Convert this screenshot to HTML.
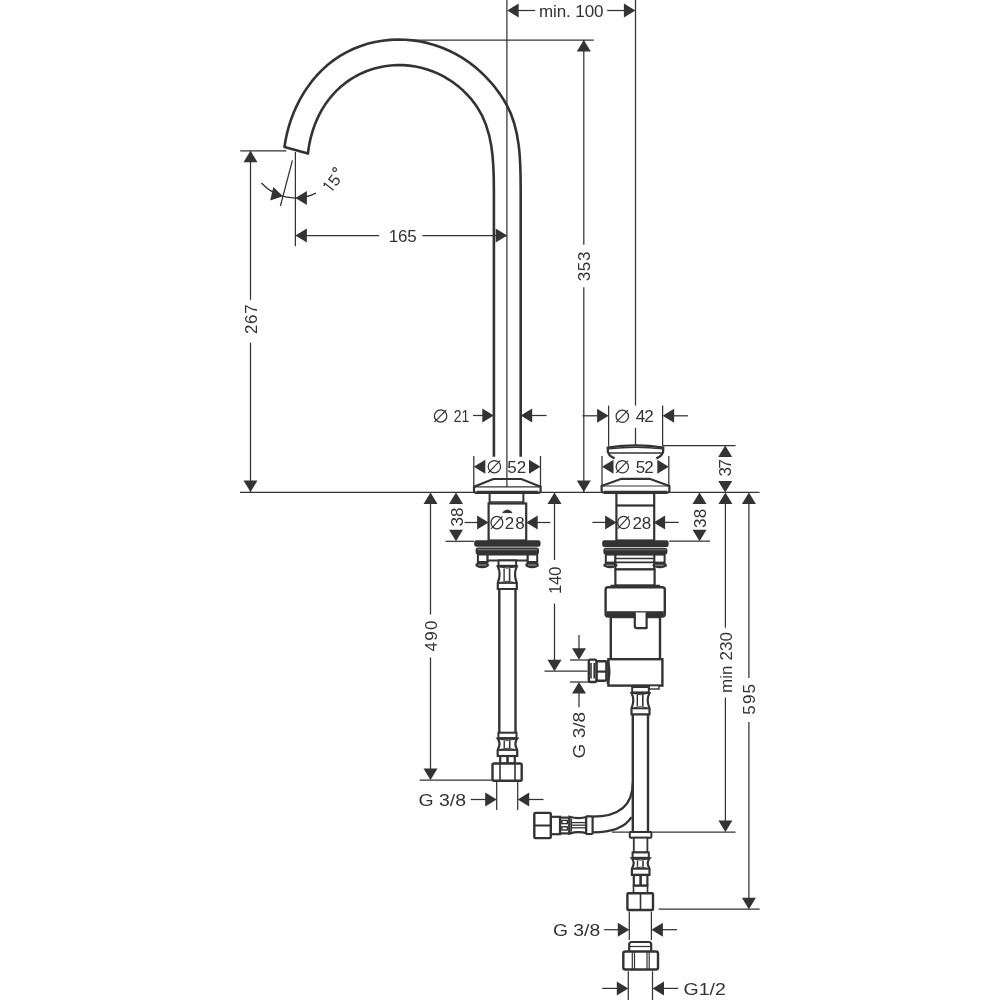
<!DOCTYPE html>
<html><head><meta charset="utf-8"><style>
html,body{margin:0;padding:0;background:#fff;width:1000px;height:1000px;overflow:hidden}
svg{display:block;will-change:transform}
text{font-family:"Liberation Sans",sans-serif;fill:#333;}
</style></head><body>
<svg width="1000" height="1000" viewBox="0 0 1000 1000">
<path d="M284.5,147 L285.6,140.04 L287.06,133.11 L288.89,126.24 L291.08,119.44 L293.63,112.73 L296.55,106.12 L299.84,99.65 L303.5,93.32 L307.53,87.16 L311.93,81.21 L316.73,75.5 L321.91,70.09 L327.48,65.03 L333.42,60.36 L339.7,56.12 L346.29,52.34 L353.15,49.03 L360.23,46.2 L367.5,43.86 L374.91,42.02 L382.44,40.69 L390.04,39.86 L397.67,39.53 L405.3,39.7 L412.89,40.37 L420.41,41.52 L427.84,43.14 L435.13,45.23 L442.25,47.77 L449.19,50.74 L455.91,54.13 L462.4,57.92 L468.62,62.09 L474.56,66.61 L480.2,71.45 L485.54,76.6 L490.56,82.03 L495.27,87.7 L499.64,93.62 L503.66,99.75 L506.42,104.5 C520.35,129.48 520.7,161.39 520.7,190 L520.7,456.8" fill="none" stroke="#333" stroke-width="2.6" stroke-linejoin="round"/>
<path d="M307.89,153.56 L308.66,147.96 L309.69,142.37 L310.97,136.8 L312.54,131.28 L314.39,125.8 L316.55,120.4 L319.03,115.09 L321.83,109.9 L324.96,104.86 L328.42,99.99 L332.21,95.33 L336.32,90.91 L340.74,86.76 L345.47,82.92 L350.47,79.41 L355.72,76.25 L361.19,73.46 L366.85,71.04 L372.67,69.02 L378.63,67.41 L384.68,66.21 L390.81,65.43 L396.97,65.07 L403.14,65.13 L409.28,65.6 L415.36,66.49 L421.37,67.77 L427.26,69.45 L433.01,71.5 L438.6,73.91 L444.01,76.67 L449.21,79.76 L454.18,83.16 L458.91,86.85 L463.38,90.82 L467.58,95.03 L471.49,99.47 L475.11,104.13 L477.22,107.13 C492.89,130.21 493.9,162.1 493.9,190 L493.9,456.8" fill="none" stroke="#333" stroke-width="2.6" stroke-linejoin="round"/>
<path d="M284.5,147 L307.89,153.56" fill="none" stroke="#333" stroke-width="2.6" stroke-linecap="round"/>
<line x1="506.9" y1="0" x2="506.9" y2="479" stroke="#333" stroke-width="1.25"/>
<line x1="635.5" y1="0" x2="635.5" y2="405.6" stroke="#333" stroke-width="1.25"/>
<line x1="635.5" y1="427.8" x2="635.5" y2="444.6" stroke="#333" stroke-width="1.25"/>
<polygon points="507.2,10.5 518.7,3.5 518.7,17.5" fill="#333"/>
<polygon points="635.4,10.5 623.9,3.5 623.9,17.5" fill="#333"/>
<line x1="518" y1="10.5" x2="535.2" y2="10.5" stroke="#333" stroke-width="1.25"/>
<line x1="607.2" y1="10.5" x2="625" y2="10.5" stroke="#333" stroke-width="1.25"/>
<text x="571.2" y="16.62" text-anchor="middle" font-size="17" textLength="64.5" lengthAdjust="spacing">min. 100</text>
<line x1="414" y1="40" x2="593.8" y2="40" stroke="#333" stroke-width="1.25"/>
<line x1="583.8" y1="40" x2="583.8" y2="244.8" stroke="#333" stroke-width="1.25"/>
<line x1="583.8" y1="287.2" x2="583.8" y2="492" stroke="#333" stroke-width="1.25"/>
<polygon points="583.8,40 576.8,51.5 590.8,51.5" fill="#333"/>
<polygon points="583.8,492 576.8,480.5 590.8,480.5" fill="#333"/>
<text transform="translate(583.8,266.4) rotate(-90)" x="0" y="6.12" text-anchor="middle" font-size="17" textLength="29.6" lengthAdjust="spacing">353</text>
<line x1="240.2" y1="150.8" x2="286.4" y2="150.8" stroke="#333" stroke-width="1.25"/>
<line x1="250.5" y1="150.8" x2="250.5" y2="299.8" stroke="#333" stroke-width="1.25"/>
<line x1="250.5" y1="342.5" x2="250.5" y2="492" stroke="#333" stroke-width="1.25"/>
<polygon points="250.5,150.8 243.5,162.3 257.5,162.3" fill="#333"/>
<polygon points="250.5,492 243.5,480.5 257.5,480.5" fill="#333"/>
<text transform="translate(250.5,319.2) rotate(-90)" x="0" y="6.12" text-anchor="middle" font-size="17" textLength="29.7" lengthAdjust="spacing">267</text>
<line x1="295.4" y1="152" x2="295.4" y2="246.2" stroke="#333" stroke-width="1.25"/>
<line x1="295.4" y1="235.6" x2="379.2" y2="235.6" stroke="#333" stroke-width="1.25"/>
<line x1="422.4" y1="235.6" x2="506.4" y2="235.6" stroke="#333" stroke-width="1.25"/>
<polygon points="295.4,235.6 306.9,228.6 306.9,242.6" fill="#333"/>
<polygon points="507.2,235.6 495.7,228.6 495.7,242.6" fill="#333"/>
<text x="402.8" y="241.72" text-anchor="middle" font-size="17" textLength="28" lengthAdjust="spacing">165</text>
<line x1="292.4" y1="160.4" x2="280.4" y2="206" stroke="#333" stroke-width="1.25"/>
<path d="M261.42,183 A46,46 0 0 0 315.97,193.14" fill="none" stroke="#333" stroke-width="1.25" />
<polygon points="282.96,196.29 270.18,200.52 273.33,186.88" fill="#333"/>
<polygon points="295.4,198 306.9,191 306.9,205" fill="#333"/>
<g transform="translate(334.6,181.4) rotate(-52.3)"><line x1="-7.6" y1="-7.2" x2="-7.6" y2="4.7" stroke="#333" stroke-width="1.3"/><line x1="-7.6" y1="-7.2" x2="-9.9" y2="-5.4" stroke="#333" stroke-width="1.3"/><text x="0.8" y="4.7" text-anchor="middle" font-size="16.5">5</text><circle cx="9.4" cy="-7.2" r="1.85" fill="none" stroke="#333" stroke-width="1.15"/></g>
<line x1="240" y1="492.4" x2="759.5" y2="492.4" stroke="#333" stroke-width="1.25"/>
<polygon points="493.8,415.5 482.3,408.5 482.3,422.5" fill="#333"/>
<line x1="473" y1="415.5" x2="483" y2="415.5" stroke="#333" stroke-width="1.25"/>
<polygon points="520.7,415.5 532.2,408.5 532.2,422.5" fill="#333"/>
<line x1="531" y1="415.5" x2="546.5" y2="415.5" stroke="#333" stroke-width="1.25"/>
<ellipse cx="440.6" cy="416" rx="6.2" ry="6.1" fill="none" stroke="#333" stroke-width="1.25"/>
<line x1="434.4" y1="422.1" x2="446.3" y2="409.9" stroke="#333" stroke-width="1.15"/>
<text x="461.6" y="422.12" text-anchor="middle" font-size="17" textLength="15.5" lengthAdjust="spacingAndGlyphs">21</text>
<line x1="473.8" y1="456" x2="473.8" y2="487" stroke="#333" stroke-width="1.25"/>
<line x1="540.5" y1="456" x2="540.5" y2="487" stroke="#333" stroke-width="1.25"/>
<polygon points="473.8,466.8 485.3,459.8 485.3,473.8" fill="#333"/>
<polygon points="540.5,466.8 529,459.8 529,473.8" fill="#333"/>
<ellipse cx="494.4" cy="466.7" rx="6.2" ry="6.1" fill="none" stroke="#333" stroke-width="1.25"/>
<line x1="488.2" y1="472.8" x2="500.1" y2="460.6" stroke="#333" stroke-width="1.15"/>
<text x="516.75" y="472.82" text-anchor="middle" font-size="17" textLength="18.9" lengthAdjust="spacing">52</text>
<path d="M493.3,479 L521.3,479 L540.6,486.8 L540.6,490.5 Q540.6,493 538,493 L476.6,493 Q474,493 474,490.5 L474,486.8 Z" fill="#fff" stroke="#333" stroke-width="2.2" />
<line x1="474" y1="486.8" x2="540.6" y2="486.8" stroke="#333" stroke-width="1.2"/>
<line x1="476.5" y1="492.4" x2="538" y2="492.4" stroke="#333" stroke-width="3.2"/>
<line x1="506.9" y1="479" x2="506.9" y2="487" stroke="#333" stroke-width="1.25"/>
<rect x="489.6" y="493" width="33.8" height="10.5" rx="0" fill="#fff" stroke="#333" stroke-width="2.0"/>
<line x1="489.6" y1="501.8" x2="523.4" y2="501.8" stroke="#333" stroke-width="1.2"/>
<rect x="488.6" y="503.5" width="37.6" height="37" rx="0" fill="#fff" stroke="#333" stroke-width="2.2"/>
<path d="M502.7,512.6 Q507.4,507.5 512.1,512.6 Z" fill="#333" stroke="#333" stroke-width="1" />
<polygon points="488.6,522.5 477.1,515.5 477.1,529.5" fill="#333"/>
<line x1="464.6" y1="522.5" x2="478" y2="522.5" stroke="#333" stroke-width="1.25"/>
<polygon points="526.2,522.5 537.7,515.5 537.7,529.5" fill="#333"/>
<line x1="536" y1="522.5" x2="550.4" y2="522.5" stroke="#333" stroke-width="1.25"/>
<ellipse cx="496.9" cy="522.6" rx="5.9" ry="6.2" fill="none" stroke="#333" stroke-width="1.25"/>
<line x1="491" y1="528.8" x2="502.3" y2="516.4" stroke="#333" stroke-width="1.15"/>
<text x="514.8" y="528.72" text-anchor="middle" font-size="17" textLength="20" lengthAdjust="spacing">28</text>
<polygon points="456,492.4 449,503.9 463,503.9" fill="#333"/>
<polygon points="456,541.2 449,529.7 463,529.7" fill="#333"/>
<text transform="translate(456.5,517.1) rotate(-90)" x="0" y="6.12" text-anchor="middle" font-size="17" textLength="19" lengthAdjust="spacing">38</text>
<line x1="445.5" y1="541.3" x2="474" y2="541.3" stroke="#333" stroke-width="1.25"/>
<rect x="474.2" y="540.2" width="66.3" height="6.6" rx="2" fill="#333"/>
<rect x="475.6" y="547.6" width="63.4" height="7" rx="2.5" fill="#333"/>
<line x1="477.5" y1="549.6" x2="537" y2="549.6" stroke="#777" stroke-width="1.1"/>
<rect x="477.9" y="554.5" width="9.7" height="7.5" rx="0" fill="#fff" stroke="#333" stroke-width="2.0"/>
<rect x="527.5" y="554.5" width="9.7" height="7.5" rx="0" fill="#fff" stroke="#333" stroke-width="2.0"/>
<rect x="487.6" y="554.5" width="39.9" height="6" rx="0" fill="#fff" stroke="#333" stroke-width="2.0"/>
<ellipse cx="482.2" cy="565" rx="6.9" ry="3.2" fill="#333"/>
<ellipse cx="532.1" cy="565" rx="6.9" ry="3.2" fill="#333"/>
<line x1="478" y1="565" x2="486.5" y2="565" stroke="#aaa" stroke-width="0.9"/>
<line x1="528" y1="565" x2="536.5" y2="565" stroke="#aaa" stroke-width="0.9"/>
<rect x="498.5" y="560.4" width="17.6" height="5.4" rx="0" fill="#fff" stroke="#333" stroke-width="2.0"/>
<path d="M497.8,566.4 Q501.4,573.7 497.8,583 L497.8,589 L516.8,589 L516.8,583 Q513.2,573.7 516.8,566.4 Z" fill="#fff" stroke="#333" stroke-width="2.2" />
<line x1="497.8" y1="583" x2="516.8" y2="583" stroke="#333" stroke-width="1.8"/>
<line x1="504.1" y1="568.4" x2="504.1" y2="581" stroke="#333" stroke-width="1.4"/>
<line x1="509.6" y1="568.4" x2="509.6" y2="581" stroke="#333" stroke-width="1.6"/>
<path d="M499.8,566.9 Q507.3,569.4 514.8,566.9 M499.8,582.5 Q507.3,580 514.8,582.5" fill="none" stroke="#333" stroke-width="1.0" />
<line x1="499.3" y1="589" x2="499.3" y2="732.7" stroke="#333" stroke-width="2.4"/>
<line x1="515.5" y1="589" x2="515.5" y2="732.7" stroke="#333" stroke-width="2.4"/>
<rect x="498.4" y="732.7" width="18.1" height="5.4" rx="0" fill="#fff" stroke="#333" stroke-width="2.0"/>
<path d="M497.7,738.7 Q501.3,743.35 497.7,750 L497.7,756 L517.2,756 L517.2,750 Q513.6,743.35 517.2,738.7 Z" fill="#fff" stroke="#333" stroke-width="2.2" />
<line x1="497.7" y1="750" x2="517.2" y2="750" stroke="#333" stroke-width="1.8"/>
<line x1="504.25" y1="740.7" x2="504.25" y2="748" stroke="#333" stroke-width="1.4"/>
<line x1="509.75" y1="740.7" x2="509.75" y2="748" stroke="#333" stroke-width="1.6"/>
<path d="M499.7,739.2 Q507.45,741.7 515.2,739.2 M499.7,749.5 Q507.45,747 515.2,749.5" fill="none" stroke="#333" stroke-width="1.0" />
<rect x="500.2" y="756" width="14.6" height="7.5" rx="0" fill="#fff" stroke="#333" stroke-width="2.2"/>
<line x1="507.5" y1="756" x2="507.5" y2="763.5" stroke="#333" stroke-width="2.6"/>
<rect x="492.5" y="763.5" width="29.2" height="17.2" rx="1.5" fill="#fff" stroke="#333" stroke-width="2.4"/>
<line x1="500" y1="763.5" x2="500" y2="780.7" stroke="#333" stroke-width="1.6"/>
<line x1="515" y1="763.5" x2="515" y2="780.7" stroke="#333" stroke-width="1.6"/>
<polygon points="430.5,492.4 423.5,503.9 437.5,503.9" fill="#333"/>
<polygon points="430.5,780 423.5,768.5 437.5,768.5" fill="#333"/>
<line x1="430.5" y1="503" x2="430.5" y2="614.5" stroke="#333" stroke-width="1.25"/>
<line x1="430.5" y1="657.5" x2="430.5" y2="770" stroke="#333" stroke-width="1.25"/>
<text transform="translate(430.5,636) rotate(-90)" x="0" y="6.12" text-anchor="middle" font-size="17" textLength="31" lengthAdjust="spacing">490</text>
<line x1="419.7" y1="780" x2="492.5" y2="780" stroke="#333" stroke-width="1.25"/>
<line x1="496.7" y1="781.5" x2="496.7" y2="810" stroke="#333" stroke-width="1.25"/>
<line x1="517.7" y1="781.5" x2="517.7" y2="810" stroke="#333" stroke-width="1.25"/>
<polygon points="496.7,799.5 485.2,792.5 485.2,806.5" fill="#333"/>
<line x1="470.7" y1="799.5" x2="486" y2="799.5" stroke="#333" stroke-width="1.25"/>
<polygon points="517.7,799.5 529.2,792.5 529.2,806.5" fill="#333"/>
<line x1="529" y1="799.5" x2="543.5" y2="799.5" stroke="#333" stroke-width="1.25"/>
<text x="442.2" y="805.72" text-anchor="middle" font-size="17" textLength="47.6" lengthAdjust="spacingAndGlyphs">G 3/8</text>
<polygon points="554.5,492.4 547.5,503.9 561.5,503.9" fill="#333"/>
<polygon points="554.5,671.2 547.5,659.7 561.5,659.7" fill="#333"/>
<line x1="554.5" y1="503" x2="554.5" y2="560" stroke="#333" stroke-width="1.25"/>
<line x1="554.5" y1="603.5" x2="554.5" y2="661" stroke="#333" stroke-width="1.25"/>
<text transform="translate(554.5,580.2) rotate(-90)" x="0" y="6.12" text-anchor="middle" font-size="17" textLength="27.5" lengthAdjust="spacing">140</text>
<line x1="544.5" y1="671.2" x2="587.5" y2="671.2" stroke="#333" stroke-width="1.25"/>
<line x1="608.6" y1="405.6" x2="608.6" y2="446.4" stroke="#333" stroke-width="1.25"/>
<line x1="662.6" y1="405.6" x2="662.6" y2="446.4" stroke="#333" stroke-width="1.25"/>
<polygon points="608.6,415.8 597.1,408.8 597.1,422.8" fill="#333"/>
<line x1="582.4" y1="415.8" x2="598" y2="415.8" stroke="#333" stroke-width="1.25"/>
<polygon points="662.6,415.8 674.1,408.8 674.1,422.8" fill="#333"/>
<line x1="673" y1="415.8" x2="688" y2="415.8" stroke="#333" stroke-width="1.25"/>
<ellipse cx="622.3" cy="416.3" rx="6.2" ry="6.1" fill="none" stroke="#333" stroke-width="1.25"/>
<line x1="616.1" y1="422.4" x2="628" y2="410.2" stroke="#333" stroke-width="1.15"/>
<text x="644.8" y="422.42" text-anchor="middle" font-size="17" textLength="18" lengthAdjust="spacing">42</text>
<path d="M614.6,458.4 Q608,455.5 607.8,451 L607.8,447.6 Q635.5,443.2 663.2,447.6 L663.2,451 Q663,455.5 656.4,458.4" fill="#fff" stroke="#333" stroke-width="2.3" />
<path d="M608.5,448.9 Q635.5,445.6 662.5,448.9" fill="none" stroke="#333" stroke-width="1.3" />
<line x1="608" y1="453" x2="663" y2="453" stroke="#333" stroke-width="1.3"/>
<line x1="662.8" y1="445.5" x2="735.5" y2="445.5" stroke="#333" stroke-width="1.25"/>
<line x1="602" y1="456" x2="602" y2="487" stroke="#333" stroke-width="1.25"/>
<line x1="668.8" y1="456" x2="668.8" y2="487" stroke="#333" stroke-width="1.25"/>
<polygon points="602,466.8 613.5,459.8 613.5,473.8" fill="#333"/>
<polygon points="668.8,466.8 657.3,459.8 657.3,473.8" fill="#333"/>
<ellipse cx="622.3" cy="466.8" rx="6.2" ry="6.1" fill="none" stroke="#333" stroke-width="1.25"/>
<line x1="616.1" y1="472.9" x2="628" y2="460.7" stroke="#333" stroke-width="1.15"/>
<text x="644.8" y="472.92" text-anchor="middle" font-size="17" textLength="18" lengthAdjust="spacing">52</text>
<path d="M621.4,478.8 L649.6,478.8 L669.4,486 L669.4,490 Q669.4,492.6 667,492.6 L604,492.6 Q601.6,492.6 601.6,490 L601.6,486 Z" fill="#fff" stroke="#333" stroke-width="2.2" />
<line x1="601.6" y1="486" x2="669.4" y2="486" stroke="#333" stroke-width="1.2"/>
<line x1="604" y1="492.4" x2="667" y2="492.4" stroke="#333" stroke-width="3.2"/>
<rect x="616.4" y="493" width="37.8" height="47.5" rx="0" fill="#fff" stroke="#333" stroke-width="2.2"/>
<rect x="616.4" y="504.4" width="37.8" height="2.2" fill="#333"/>
<polygon points="616.6,522.4 605.1,515.4 605.1,529.4" fill="#333"/>
<line x1="592.4" y1="522.4" x2="606" y2="522.4" stroke="#333" stroke-width="1.25"/>
<polygon points="653.6,522.4 665.1,515.4 665.1,529.4" fill="#333"/>
<line x1="663" y1="522.4" x2="678.8" y2="522.4" stroke="#333" stroke-width="1.25"/>
<ellipse cx="623.6" cy="522.5" rx="5.9" ry="6.2" fill="none" stroke="#333" stroke-width="1.25"/>
<line x1="617.7" y1="528.7" x2="629" y2="516.3" stroke="#333" stroke-width="1.15"/>
<text x="641.9" y="528.62" text-anchor="middle" font-size="17" textLength="18.6" lengthAdjust="spacing">28</text>
<polygon points="699.5,492.4 692.5,503.9 706.5,503.9" fill="#333"/>
<polygon points="699.5,541.2 692.5,529.7 706.5,529.7" fill="#333"/>
<text transform="translate(699.5,518.4) rotate(-90)" x="0" y="6.12" text-anchor="middle" font-size="17" textLength="19" lengthAdjust="spacing">38</text>
<line x1="669.2" y1="541.2" x2="710" y2="541.2" stroke="#333" stroke-width="1.25"/>
<rect x="602.2" y="540.2" width="66.4" height="6.8" rx="2" fill="#333"/>
<rect x="603.4" y="547.8" width="64" height="6.8" rx="2.5" fill="#333"/>
<line x1="605" y1="549.8" x2="666" y2="549.8" stroke="#777" stroke-width="1.1"/>
<rect x="605.8" y="554.6" width="9.6" height="8" rx="0" fill="#fff" stroke="#333" stroke-width="2.0"/>
<rect x="654.2" y="554.6" width="10.4" height="8" rx="0" fill="#fff" stroke="#333" stroke-width="2.0"/>
<rect x="615.4" y="554.6" width="38.8" height="14.8" rx="0" fill="#fff" stroke="#333" stroke-width="2.0"/>
<line x1="615.4" y1="558.5" x2="654.2" y2="558.5" stroke="#333" stroke-width="1.6"/>
<line x1="615.4" y1="562.4" x2="654.2" y2="562.4" stroke="#333" stroke-width="1.6"/>
<ellipse cx="610.4" cy="565.2" rx="7" ry="3" fill="#333"/>
<ellipse cx="659.8" cy="565.2" rx="7.2" ry="3" fill="#333"/>
<line x1="606" y1="565.2" x2="614" y2="565.2" stroke="#aaa" stroke-width="0.9"/>
<line x1="655" y1="565.2" x2="663.5" y2="565.2" stroke="#aaa" stroke-width="0.9"/>
<rect x="615.4" y="569.4" width="39.2" height="16.1" rx="0" fill="#fff" stroke="#333" stroke-width="2.2"/>
<rect x="605.6" y="587.2" width="59.2" height="29.3" rx="2.5" fill="#fff" stroke="#333" stroke-width="2.4"/>
<line x1="610.5" y1="586.4" x2="660" y2="586.4" stroke="#333" stroke-width="3.2"/>
<rect x="606.6" y="611.2" width="57.2" height="5.8" fill="#333"/>
<rect x="610.8" y="617" width="49.2" height="42.2" rx="0" fill="#fff" stroke="#333" stroke-width="2.4"/>
<path d="M634.8,612.5 L634.8,626 Q634.8,628.2 637,628.2 L646.6,628.2 L646.6,612.5" fill="#fff" stroke="#333" stroke-width="2.2" stroke-linejoin="round"/>
<rect x="608.4" y="659.2" width="54" height="26.4" rx="0" fill="#fff" stroke="#333" stroke-width="2.4"/>
<rect x="596.4" y="661.2" width="10" height="19.6" rx="1.5" fill="#fff" stroke="#333" stroke-width="2.4"/>
<line x1="596.4" y1="671.6" x2="606.4" y2="671.6" stroke="#333" stroke-width="2.2"/>
<path d="M607.6,660 Q611.2,671.2 607.6,684" fill="none" stroke="#333" stroke-width="2.2" />
<rect x="588.8" y="659.6" width="7.6" height="22.4" rx="1.8" fill="#fff" stroke="#333" stroke-width="2.4"/>
<line x1="591" y1="663" x2="591" y2="678.5" stroke="#333" stroke-width="1.6"/>
<line x1="594.2" y1="663" x2="594.2" y2="678.5" stroke="#333" stroke-width="1.6"/>
<line x1="570" y1="660" x2="590" y2="660" stroke="#333" stroke-width="1.25"/>
<line x1="570" y1="682" x2="590" y2="682" stroke="#333" stroke-width="1.25"/>
<polygon points="579,659.8 572,648.3 586,648.3" fill="#333"/>
<line x1="579" y1="635" x2="579" y2="649" stroke="#333" stroke-width="1.25"/>
<polygon points="579,682 572,693.5 586,693.5" fill="#333"/>
<line x1="579" y1="693" x2="579" y2="707.2" stroke="#333" stroke-width="1.25"/>
<text transform="translate(579.2,735.2) rotate(-90)" x="0" y="6.12" text-anchor="middle" font-size="17" textLength="46.4" lengthAdjust="spacingAndGlyphs">G 3/8</text>
<rect x="633.5" y="685.6" width="14.5" height="3.4" rx="0" fill="#fff" stroke="#333" stroke-width="1.6"/>
<rect x="649" y="685.6" width="10" height="3.4" rx="0" fill="#fff" stroke="#333" stroke-width="1.4"/>
<rect x="632.2" y="687" width="16.6" height="5.4" rx="0" fill="#fff" stroke="#333" stroke-width="2.0"/>
<path d="M631.5,693 Q635.1,699.7 631.5,708.4 L631.5,714.4 L649.5,714.4 L649.5,708.4 Q645.9,699.7 649.5,693 Z" fill="#fff" stroke="#333" stroke-width="2.2" />
<line x1="631.5" y1="708.4" x2="649.5" y2="708.4" stroke="#333" stroke-width="1.8"/>
<line x1="637.3" y1="695" x2="637.3" y2="706.4" stroke="#333" stroke-width="1.4"/>
<line x1="642.8" y1="695" x2="642.8" y2="706.4" stroke="#333" stroke-width="1.6"/>
<path d="M633.5,693.5 Q640.5,696 647.5,693.5 M633.5,707.9 Q640.5,705.4 647.5,707.9" fill="none" stroke="#333" stroke-width="1.0" />
<line x1="632.8" y1="714.4" x2="632.8" y2="832" stroke="#333" stroke-width="2.4"/>
<line x1="648" y1="714.4" x2="648" y2="832" stroke="#333" stroke-width="2.4"/>
<path d="M632.8,782.4 Q632.8,816.6 592.2,816.6" fill="none" stroke="#333" stroke-width="2.2" />
<path d="M631.5,817.2 Q622,832.4 593,832.4" fill="none" stroke="#333" stroke-width="2.2" />
<path d="M569.5,816.8 Q578.5,819.6 587.5,816.8 L587.5,833.6 Q578.5,830.8 569.5,833.6 Z" fill="#fff" stroke="#333" stroke-width="2.2" />
<line x1="572" y1="822.6" x2="585" y2="822.6" stroke="#333" stroke-width="1.3"/>
<line x1="572" y1="825.2" x2="585" y2="825.2" stroke="#333" stroke-width="1.3"/>
<line x1="572" y1="827.8" x2="585" y2="827.8" stroke="#333" stroke-width="1.3"/>
<line x1="571.5" y1="818.8" x2="571.5" y2="831.6" stroke="#333" stroke-width="1.1"/>
<line x1="585.5" y1="818.8" x2="585.5" y2="831.6" stroke="#333" stroke-width="1.1"/>
<rect x="586.2" y="816.4" width="6.4" height="17.6" rx="1" fill="#fff" stroke="#333" stroke-width="2.2"/>
<rect x="560" y="817.6" width="9.2" height="15.8" rx="0" fill="#fff" stroke="#333" stroke-width="2.2"/>
<rect x="561.8" y="820.4" width="5.6" height="3.2" rx="0" fill="#fff" stroke="#333" stroke-width="1.4"/>
<rect x="561.8" y="826.8" width="5.6" height="3.2" rx="0" fill="#fff" stroke="#333" stroke-width="1.4"/>
<rect x="550.8" y="816.8" width="9.2" height="17.4" rx="0" fill="#fff" stroke="#333" stroke-width="2.2"/>
<rect x="534.3" y="812.9" width="16.5" height="25.2" rx="1.2" fill="#fff" stroke="#333" stroke-width="2.4"/>
<line x1="534.3" y1="825.5" x2="550.8" y2="825.5" stroke="#333" stroke-width="2.0"/>
<line x1="612" y1="832" x2="735.5" y2="832" stroke="#333" stroke-width="1.25"/>
<rect x="629.8" y="832" width="21.6" height="5.7" rx="1" fill="#fff" stroke="#333" stroke-width="2.0"/>
<rect x="633.8" y="837.7" width="13.6" height="14.7" rx="0" fill="#fff" stroke="#333" stroke-width="1.8"/>
<rect x="632.6" y="852.4" width="16.2" height="5.4" rx="0" fill="#fff" stroke="#333" stroke-width="2.0"/>
<path d="M631.9,858.4 Q635.5,862.6 631.9,868.8 L631.9,874.8 L649.5,874.8 L649.5,868.8 Q645.9,862.6 649.5,858.4 Z" fill="#fff" stroke="#333" stroke-width="2.2" />
<line x1="631.9" y1="868.8" x2="649.5" y2="868.8" stroke="#333" stroke-width="1.8"/>
<line x1="637.5" y1="860.4" x2="637.5" y2="866.8" stroke="#333" stroke-width="1.4"/>
<line x1="643" y1="860.4" x2="643" y2="866.8" stroke="#333" stroke-width="1.6"/>
<path d="M633.9,858.9 Q640.7,861.4 647.5,858.9 M633.9,868.3 Q640.7,865.8 647.5,868.3" fill="none" stroke="#333" stroke-width="1.0" />
<rect x="633.8" y="875" width="13.6" height="10.5" rx="0" fill="#fff" stroke="#333" stroke-width="2.2"/>
<line x1="640.6" y1="875" x2="640.6" y2="885.5" stroke="#333" stroke-width="2.6"/>
<rect x="633.5" y="886" width="14" height="7.2" rx="0" fill="#fff" stroke="#333" stroke-width="1.6"/>
<rect x="627.4" y="893.2" width="25.6" height="16.8" rx="1" fill="#fff" stroke="#333" stroke-width="2.4"/>
<line x1="640.5" y1="893.2" x2="640.5" y2="910" stroke="#333" stroke-width="1.6"/>
<line x1="658.6" y1="909.2" x2="759.6" y2="909.2" stroke="#333" stroke-width="1.25"/>
<line x1="629.3" y1="911.6" x2="629.3" y2="940" stroke="#333" stroke-width="1.25"/>
<line x1="651.4" y1="911.6" x2="651.4" y2="940" stroke="#333" stroke-width="1.25"/>
<polygon points="629.3,929.7 617.8,922.7 617.8,936.7" fill="#333"/>
<line x1="604.2" y1="929.7" x2="619" y2="929.7" stroke="#333" stroke-width="1.25"/>
<polygon points="651.4,929.7 662.9,922.7 662.9,936.7" fill="#333"/>
<line x1="662" y1="929.7" x2="677" y2="929.7" stroke="#333" stroke-width="1.25"/>
<text x="576.6" y="935.92" text-anchor="middle" font-size="17" textLength="47.2" lengthAdjust="spacingAndGlyphs">G 3/8</text>
<path d="M629.2,951.5 L629.2,944.5 Q629.2,942 631.7,942 L648.7,942 Q651.2,942 651.2,944.5 L651.2,951.5" fill="none" stroke="#333" stroke-width="2.2" />
<line x1="629.2" y1="946.5" x2="651.2" y2="946.5" stroke="#333" stroke-width="1.2"/>
<rect x="623.3" y="951.5" width="34.7" height="18" rx="2" fill="#fff" stroke="#333" stroke-width="2.4"/>
<line x1="632.3" y1="951.5" x2="632.3" y2="969.5" stroke="#333" stroke-width="1.2"/>
<line x1="634.5" y1="951.5" x2="634.5" y2="969.5" stroke="#333" stroke-width="1.2"/>
<line x1="647" y1="951.5" x2="647" y2="969.5" stroke="#333" stroke-width="1.2"/>
<line x1="649.2" y1="951.5" x2="649.2" y2="969.5" stroke="#333" stroke-width="1.2"/>
<line x1="628.3" y1="971.3" x2="628.3" y2="1000" stroke="#333" stroke-width="1.25"/>
<line x1="652.5" y1="971.3" x2="652.5" y2="1000" stroke="#333" stroke-width="1.25"/>
<polygon points="628.3,988.4 616.8,981.4 616.8,995.4" fill="#333"/>
<line x1="602.2" y1="988.4" x2="618" y2="988.4" stroke="#333" stroke-width="1.25"/>
<polygon points="652.5,988.4 664,981.4 664,995.4" fill="#333"/>
<line x1="663" y1="988.4" x2="678.2" y2="988.4" stroke="#333" stroke-width="1.25"/>
<text x="704.7" y="994.62" text-anchor="middle" font-size="17" textLength="42.3" lengthAdjust="spacingAndGlyphs">G1/2</text>
<polygon points="725.2,445.5 718.2,457 732.2,457" fill="#333"/>
<polygon points="725.2,492.4 718.2,480.9 732.2,480.9" fill="#333"/>
<text transform="translate(725.2,467.7) rotate(-90)" x="0" y="6.12" text-anchor="middle" font-size="17" textLength="17.5" lengthAdjust="spacing">37</text>
<polygon points="725.4,492.4 718.4,503.9 732.4,503.9" fill="#333"/>
<line x1="725.4" y1="503" x2="725.4" y2="627.7" stroke="#333" stroke-width="1.25"/>
<line x1="725.4" y1="697.5" x2="725.4" y2="822" stroke="#333" stroke-width="1.25"/>
<polygon points="725.4,832 718.4,820.5 732.4,820.5" fill="#333"/>
<text transform="translate(725.4,662.5) rotate(-90)" x="0" y="6.12" text-anchor="middle" font-size="17" textLength="61" lengthAdjust="spacing">min 230</text>
<polygon points="748.9,492.4 741.9,503.9 755.9,503.9" fill="#333"/>
<line x1="748.9" y1="503" x2="748.9" y2="678" stroke="#333" stroke-width="1.25"/>
<line x1="748.9" y1="722" x2="748.9" y2="899" stroke="#333" stroke-width="1.25"/>
<polygon points="748.9,909.2 741.9,897.7 755.9,897.7" fill="#333"/>
<text transform="translate(748.9,699.3) rotate(-90)" x="0" y="6.12" text-anchor="middle" font-size="17" textLength="30.7" lengthAdjust="spacing">595</text>
</svg>
</body></html>
